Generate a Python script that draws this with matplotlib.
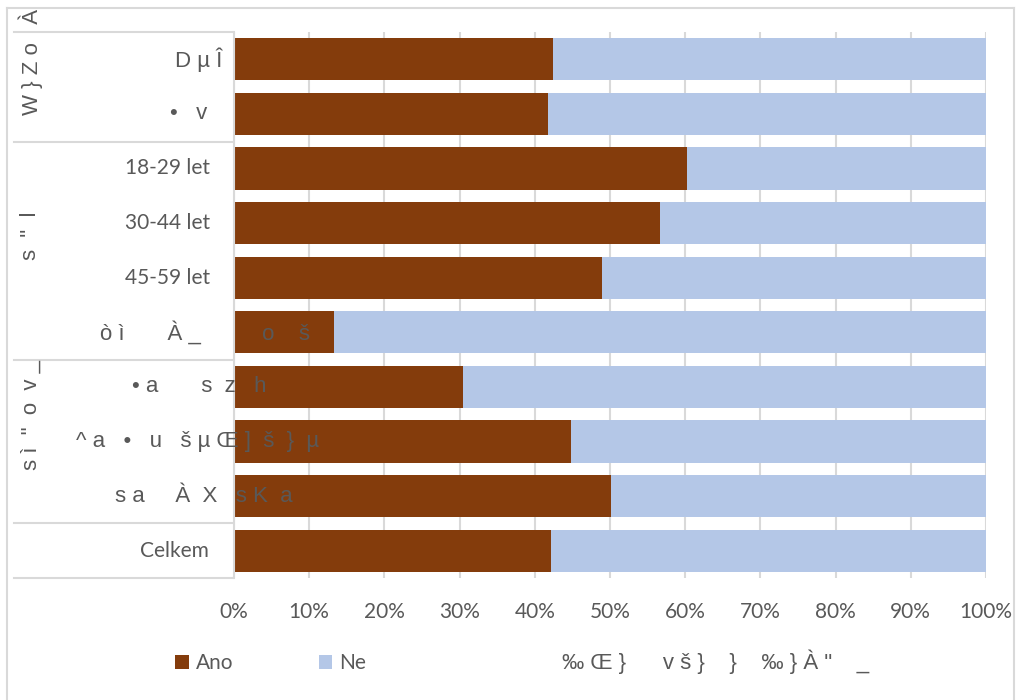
import numpy as np
import matplotlib
matplotlib.use("Agg")
import matplotlib.pyplot as plt
from matplotlib.lines import Line2D

# data (garbled labels kept as they show up in the source picture)
categories = ["D µ Î", "•   v", "18-29 let", "30-44 let", "45-59 let",
              "ò ì       À _          o    š", "• a       s  z   h",
              "^ a   •   u   š µ Œ ]  š  }  µ", "s a     À  X   s K  a", "Celkem"]
ano = [42.4, 41.8, 60.2, 56.6, 48.9, 13.3, 30.4, 44.8, 50.1, 42.1]
ne = [57.6, 58.2, 39.8, 43.4, 51.1, 86.7, 69.6, 55.2, 49.9, 57.9]
groups = ["W } Z o   À", "s  \"  l", "s ì  \"  o  v _"]
series_names = ["Ano", "Ne"]
xticks = [0, 10, 20, 30, 40, 50, 60, 70, 80, 90, 100]
note = "‰ Œ }      v š }    }    ‰ } À \"    _"

W, H = 1016, 700
BROWN = "#843C0C"
BLUE = "#B4C7E7"
GRID = "#D9D9D9"
TXT = "#595959"
GARBLE = ["Liberation Sans", "DejaVu Sans"]
NORMAL = ["Lato", "DejaVu Sans"]


def fx(x):
    return x / W


def fy(y):
    return 1 - y / H


fig = plt.figure(figsize=(W / 100, H / 100), dpi=100)
ax = fig.add_axes([fx(234), fy(578), fx(986) - fx(234), fy(32) - fy(578)])

pos = np.arange(len(categories))
ax.barh(pos, ano, height=0.77, color=BROWN, label=series_names[0], zorder=2)
ax.barh(pos, ne, left=ano, height=0.77, color=BLUE, label=series_names[1], zorder=2)
ax.set_ylim(len(categories) - 0.5, -0.5)
ax.set_xlim(0, 100)

ax.set_xticks(xticks)
ax.set_xticklabels([f"{t}%" for t in xticks], family=NORMAL, fontsize=15, color=TXT)
ax.tick_params(axis="x", length=0, pad=17)
ax.set_yticks([])
ax.grid(axis="x", color=GRID, linewidth=1.5, zorder=0)
for s in ["top", "right", "bottom"]:
    ax.spines[s].set_visible(False)
ax.spines["left"].set_color(GRID)
ax.spines["left"].set_linewidth(1.5)

# category labels, left side table
row_h = (578 - 32) / len(categories)
label_x = [175, 170, 125, 125, 125, 100, 132, 76, 115, 140]
for i, lab in enumerate(categories):
    yc = 32 + row_h * (i + 0.5)
    normal = "let" in lab or lab == "Celkem"
    fig.text(fx(label_x[i]), fy(yc), lab, ha="left", va="center",
             fontsize=15 if normal else 16, color=TXT,
             family=NORMAL if normal else GARBLE, zorder=5)

# table lines
for yl in [32, 142, 360, 523, 578]:
    fig.add_artist(Line2D([fx(14), fx(233)], [fy(yl), fy(yl)], color=GRID, lw=1.5))

# group labels (rotated)
group_start = [115, 260, 470]
for g, ys in zip(groups, group_start):
    fig.text(fx(31), fy(ys), g, rotation=90, rotation_mode="anchor",
             ha="left", va="center", fontsize=16, color=TXT, family=GARBLE)

# outer frame
for xs, ys in [([7, 1014], [8, 8]), ([7, 7], [8, 700]), ([1014, 1014], [8, 700])]:
    fig.add_artist(Line2D([fx(v) for v in xs], [fy(v) for v in ys], color=GRID, lw=1.5))

fig.legend(loc="center left", bbox_to_anchor=(fx(175), fy(663)), ncol=2,
           frameon=False, borderpad=0, borderaxespad=0, handlelength=0.65,
           handleheight=0.65, handletextpad=0.35, columnspacing=4.1,
           prop={"family": NORMAL, "size": 15}, labelcolor=TXT)

fig.text(fx(562), fy(662), note, ha="left", va="center", fontsize=16,
         color=TXT, family=GARBLE)

fig.savefig("out.png", dpi=100)
